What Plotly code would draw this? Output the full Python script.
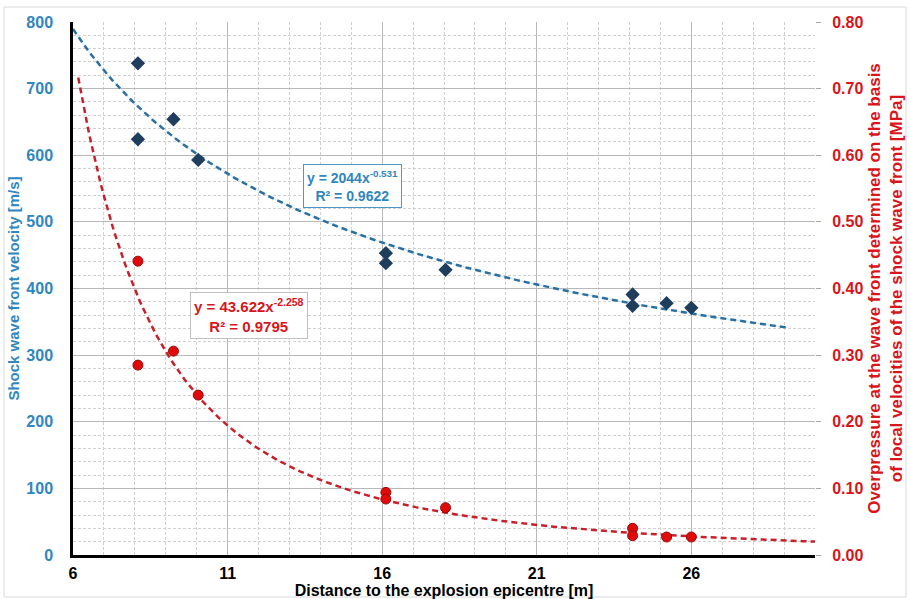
import numpy as np
import plotly.graph_objects as go

# Measured data: distance from the epicentre [m]
vel_x = [8.1, 8.1, 9.25, 10.05, 16.12, 16.12, 18.05, 24.1, 24.1, 25.2, 26.0]
vel_y = [738, 624, 654, 593, 453, 438, 428, 391, 374, 378, 371]

pres_x = [8.1, 8.1, 9.25, 10.05, 16.12, 16.12, 18.05, 24.1, 24.1, 25.2, 26.0]
pres_y = [0.441, 0.285, 0.306, 0.240, 0.094, 0.084, 0.071, 0.040, 0.029, 0.027, 0.027]

# Power-law fit coefficients (y = a * x^b)
vel_fit = {"a": 2044.0, "b": -0.531, "r2": 0.9622, "x0": 6.0, "x1": 29.1}
pres_fit = {"a": 43.622, "b": -2.258, "r2": 0.9795, "x0": 6.17, "x1": 30.0}

BLUE_TXT = "#2F86C0"
BLUE_LINE = "#2C6E9E"
NAVY = "#1F3D5C"
RED_TXT = "#D9141B"
RED_LINE = "#C8202A"
RED_PT = "#E00A0A"
FONT = "Arial, Liberation Sans, sans-serif"

fig = go.Figure()

xv = np.linspace(vel_fit["x0"], vel_fit["x1"], 200)
fig.add_trace(go.Scatter(x=xv, y=vel_fit["a"] * xv ** vel_fit["b"], mode="lines",
                         line=dict(color="#C4E8F8", width=1), hoverinfo="skip",
                         showlegend=False))
fig.add_trace(go.Scatter(x=xv, y=vel_fit["a"] * xv ** vel_fit["b"], mode="lines",
                         line=dict(color=BLUE_LINE, width=2.5, dash="6px,4px"),
                         showlegend=False))

xp = np.linspace(pres_fit["x0"], pres_fit["x1"], 300)
fig.add_trace(go.Scatter(x=xp, y=pres_fit["a"] * xp ** pres_fit["b"], mode="lines",
                         line=dict(color=RED_LINE, width=2.5, dash="6px,4px"),
                         yaxis="y2", showlegend=False))

fig.add_trace(go.Scatter(x=vel_x, y=vel_y, mode="markers",
                         marker=dict(symbol="diamond", size=11, color=NAVY,
                                     line=dict(color=NAVY, width=0)),
                         showlegend=False))
fig.add_trace(go.Scatter(x=pres_x, y=pres_y, mode="markers", yaxis="y2",
                         marker=dict(symbol="circle", size=10, color=RED_PT,
                                     line=dict(color="#9A0A0A", width=1)),
                         showlegend=False))

fig.add_annotation(x=15.04, y=554, xref="x", yref="y",
                   text=(f"<b>y = {vel_fit['a']:.0f}x<sup>{vel_fit['b']}</sup></b><br>"
                         f"<b>R² = {vel_fit['r2']}</b>"),
                   showarrow=False, font=dict(family=FONT, size=14, color=BLUE_TXT),
                   bgcolor="white", bordercolor="#4A98C8", borderwidth=1, borderpad=3,
                   align="center")
fig.add_annotation(x=11.7, y=360, xref="x", yref="y",
                   text=(f"<b>y = {pres_fit['a']}x<sup>{pres_fit['b']}</sup></b><br>"
                         f"<b>R² = {pres_fit['r2']}</b>"),
                   showarrow=False, font=dict(family=FONT, size=15, color=RED_TXT),
                   bgcolor="white", bordercolor="#BFBFBF", borderwidth=1, borderpad=3,
                   align="center")

# light frame around the whole chart
fig.add_shape(type="rect", xref="paper", yref="paper",
              x0=(4 - 73) / 742, x1=(906 - 73) / 742,
              y0=(555 - 597) / 533, y1=(555 - 7) / 533,
              line=dict(color="#D9D9D9", width=1), layer="below")

fig.update_layout(
    width=910, height=599,
    margin=dict(l=73, r=95, t=22, b=44),
    paper_bgcolor="white", plot_bgcolor="white",
    font=dict(family=FONT, size=16),
    xaxis=dict(
        range=[6, 30], tick0=6, dtick=5, automargin=False,
        showgrid=True, gridcolor="#B8B8B8", gridwidth=1,
        minor=dict(tick0=6, dtick=1, showgrid=True, gridcolor="#D0D0D0",
                   griddash="3px,2px"),
        showline=True, linecolor="black", linewidth=2.5,
        ticks="", ticklabelstandoff=2,
        tickfont=dict(family=FONT, size=16, color="black", weight="bold"),
        title=dict(text="Distance to the explosion epicentre [m]", standoff=8,
                   font=dict(family=FONT, size=16, color="black", weight="bold")),
        zeroline=False,
    ),
    yaxis=dict(
        range=[0, 800], tick0=0, dtick=100, automargin=False,
        showgrid=True, gridcolor="#B8B8B8", gridwidth=1,
        minor=dict(tick0=0, dtick=20, showgrid=True, gridcolor="#D0D0D0",
                   griddash="3px,2px"),
        showline=True, linecolor="black", linewidth=2.5,
        ticks="", ticklabelstandoff=14,
        tickfont=dict(family=FONT, size=16, color=BLUE_TXT, weight="bold"),
        title=dict(text="Shock wave front velocity [m/s]", standoff=4,
                   font=dict(family=FONT, size=15, color=BLUE_TXT, weight="bold")),
        zeroline=False,
    ),
    yaxis2=dict(
        range=[0, 0.8], tick0=0, dtick=0.1, tickformat=".2f", automargin=False,
        overlaying="y", side="right", showgrid=False, zeroline=False,
        showline=False, ticks="outside", ticklen=5, tickcolor="#A6A6A6",
        ticklabelstandoff=8,
        tickfont=dict(family=FONT, size=16, color=RED_TXT, weight="bold"),
        title=dict(text="Overpressure at the wave front determined on the basis<br>"
                        "of local velocities of the shock wave front [MPa]",
                   standoff=5,
                   font=dict(family=FONT, size=17, color=RED_TXT, weight="bold")),
    ),
)

fig.write_html("out.html")
